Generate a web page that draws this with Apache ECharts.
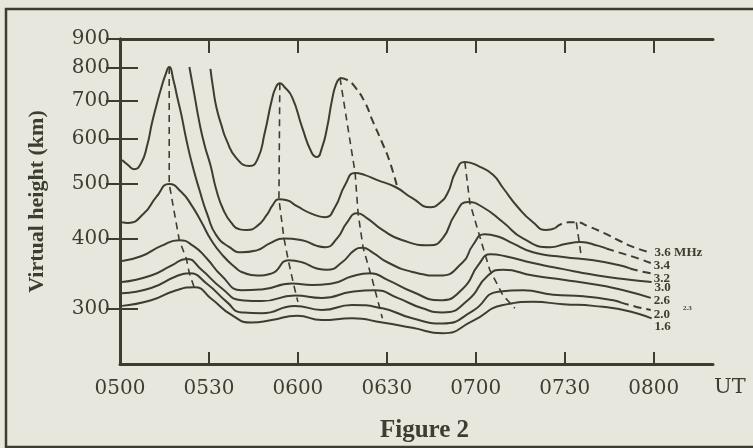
<!DOCTYPE html>
<html>
<head>
<meta charset="utf-8">
<script src="https://cdn.jsdelivr.net/npm/echarts@6/dist/echarts.min.js"></script>
<style>
  html, body { margin: 0; padding: 0; background: #e8e7de; }
  #chart { width: 753px; height: 448px; }
</style>
</head>
<body>
<div id="chart"></div>
<script>
// time in minutes after 0500 UT, virtual height in km
const timeTicks = [0, 30, 60, 90, 120, 150, 180]
const heightTicks = [300, 400, 500, 600, 700, 800, 900]

// upper trace (starts at 0530, ends dashed into the 3.6 MHz curve)
const upperSolid = [[30.5, 797], [31.5, 731], [32.5, 682], [34.2, 634], [35.9, 597], [39.3, 554], [43.7, 537], [46.4, 552], [48.8, 614], [51.2, 702], [52.6, 740], [53.9, 752], [55.3, 742], [58, 711], [61.4, 629], [64.7, 566], [66.4, 557], [68.1, 578], [69.8, 626], [71.5, 702], [72.9, 750], [74.2, 768]]
const upperTail = [[74.2, 768], [76.6, 762], [79.3, 740], [82.7, 694], [85.1, 647], [88.5, 589], [90.8, 550], [93.6, 491]]

const f36Solid = [[23.4, 803], [25.1, 717], [26.8, 640], [28.5, 585], [30.5, 539], [32.5, 487], [34.9, 449], [37.6, 426], [40.3, 415], [42.7, 414], [46.1, 420], [49.5, 440], [51.5, 458], [53.6, 469], [56.3, 467], [59.7, 456], [64.7, 442], [69.2, 436], [72.5, 454], [75.9, 497], [79.3, 522], [82.4, 518], [86.8, 507], [92.9, 493], [98.6, 471], [104.7, 454], [107.8, 462], [110.5, 481], [113.2, 524], [116.3, 546], [121.4, 535], [125.8, 518], [129.2, 491], [134.2, 454], [139.3, 427], [143.7, 414], [146.8, 417]]
const f36Tail = [[146.8, 417], [151.2, 427], [153.9, 427], [158, 420], [163.1, 409], [168.1, 397], [173.2, 386], [179.3, 377]]

const f34Solid = [[0.7, 550], [2.7, 539], [4.7, 530], [7.1, 543], [9.2, 585], [10.8, 640], [12.5, 694], [13.9, 737], [15.3, 777], [16.6, 803], [18, 762], [19.3, 711], [20.7, 661], [22.4, 597], [24.4, 539], [26.8, 487], [29.5, 440], [32.5, 405], [36.9, 386], [41, 378], [46.1, 381], [50.5, 392], [55.3, 400], [61.4, 397], [66.4, 388], [69.2, 386], [73.2, 400], [76.6, 427], [80, 443], [83.4, 434], [88.5, 414], [95.3, 397], [104.4, 389], [108.8, 400], [112.9, 440], [117.3, 464], [122.4, 454], [129.2, 427], [135.9, 400], [145.1, 386], [150.2, 391], [155.3, 394], [161.4, 388], [164, 384]]
const f34Tail = [[164, 384], [168.1, 378], [173.2, 371], [179, 362]]

const f32Solid = [[0.7, 427], [2.7, 426], [8.1, 443], [12.2, 473], [16.6, 499], [20.7, 483], [24.1, 458], [27.5, 427], [30.8, 397], [34.9, 372], [39.3, 354], [41, 349], [46.1, 344], [51.2, 347], [56.9, 366], [61.4, 363], [66.4, 354], [69.8, 352], [74.9, 363], [79, 381], [81.7, 385], [85.1, 378], [90.2, 363], [98.6, 349], [107.8, 344], [115.6, 363], [119, 389], [123, 407], [127.5, 403], [132.5, 392], [139.3, 378], [149.5, 371], [159.7, 366], [168.1, 359], [172, 354]]
const f32Tail = [[172, 354], [175.5, 350], [179, 347]]

const f30 = [[0.7, 365], [7.1, 372], [13.9, 388], [20, 397], [24.7, 388], [29.2, 369], [34.2, 344], [41, 324], [47.8, 325], [58, 333], [64.7, 331], [71.5, 333], [78.3, 343], [84.4, 347], [90.2, 338], [98.6, 322], [107.8, 311], [115.6, 326], [121, 360], [125, 375], [130, 372], [139.3, 362], [149.5, 353], [159.7, 345], [169.8, 339], [179.3, 335]]

const f26 = [[0.7, 335], [10.5, 344], [17.3, 358], [22.4, 368], [27.5, 352], [34.2, 327], [41, 311], [47.8, 310], [59, 317], [68.1, 314], [78.3, 322], [85.8, 324], [93.6, 314], [102, 301], [108.8, 296], [117.3, 311], [124.1, 344], [129.2, 352], [139.3, 344], [149.5, 338], [159.7, 332], [169.8, 324], [179, 314]]

const f20Solid = [[0.7, 320], [10.5, 327], [19, 343], [23.4, 347], [29.2, 333], [36, 309], [41, 296], [47.8, 295], [59, 304], [68.1, 299], [78.3, 305], [88.5, 301], [98.6, 289], [108.8, 283], [119, 298], [127.5, 322], [136, 324], [146.1, 318], [156.3, 316], [166.4, 311], [169, 308]]
const f20Tail = [[169, 308], [174, 303], [179, 299]]

const f16 = [[0.7, 304], [10.5, 311], [19, 324], [25.1, 328], [30.8, 313], [37.6, 293], [44.4, 284], [51.2, 287], [59.7, 292], [68.1, 287], [78.3, 289], [88.5, 284], [98.6, 278], [108.8, 272], [119, 286], [129.2, 305], [139.3, 309], [149.5, 306], [159.7, 304], [169.8, 299], [179.3, 289]]

// dashed lines joining the crests
const crest1 = [[16.6, 803], [16.6, 499], [20, 397], [22.4, 368], [23.4, 347], [25.1, 327]]
const crest2 = [[53.9, 752], [53.6, 469], [55.3, 400], [56.9, 363], [58.6, 331], [60, 309]]
const crest3 = [[74.2, 768], [79.3, 522], [80.3, 443], [82, 385], [85.1, 338], [88.5, 289]]
const crest4 = [[116.3, 546], [118, 462], [121.7, 397], [124.7, 352], [129.2, 317], [133.2, 301]]
const crest5 = [[153.9, 427], [155.6, 371]]

const ink = '#3c3e32'
const serif = 'DejaVu Serif'

function lg(pts) {
  return pts.map(p => [p[0], Math.log10(p[1])])
}

function curve(pts, dashed, label, dy) {
  const s = {
    type: 'line',
    data: lg(pts),
    smooth: 0.55,
    showSymbol: false,
    silent: true,
    lineStyle: { color: ink, width: 2, type: dashed ? [8, 5] : 'solid' }
  }
  if (label) {
    s.endLabel = {
      show: true,
      formatter: label,
      color: ink,
      fontFamily: 'Liberation Serif',
      fontWeight: 'bold',
      fontSize: 13,
      distance: 3,
      offset: [0, dy]
    }
  }
  return s
}

function crest(pts) {
  return {
    type: 'line',
    data: lg(pts),
    showSymbol: false,
    silent: true,
    lineStyle: { color: ink, width: 1.6, type: [7, 5] }
  }
}

function fmtTime(v) {
  const m = 300 + v
  const h = Math.floor(m / 60)
  const mm = m % 60
  return (h < 10 ? '0' : '') + h + (mm < 10 ? '0' : '') + mm
}

const chart = echarts.init(document.getElementById('chart'))
const yMin = Math.log10(240)
const yMax = Math.log10(900)
const yTickVals = heightTicks.map(v => Math.log10(v))

chart.setOption({
  backgroundColor: '#e8e7de',
  animation: false,
  grid: { left: 120, right: 40, top: 39, bottom: 84 },
  xAxis: [
    {
      type: 'value',
      min: 0,
      max: 200,
      position: 'bottom',
      axisLine: { lineStyle: { color: ink, width: 3 } },
      axisTick: { inside: true, length: 12, customValues: timeTicks, lineStyle: { color: ink, width: 2 } },
      axisLabel: {
        customValues: timeTicks,
        formatter: fmtTime,
        color: ink,
        fontFamily: serif,
        fontSize: 20,
        margin: 15
      },
      splitLine: { show: false }
    },
    {
      type: 'value',
      min: 0,
      max: 200,
      position: 'top',
      axisLine: { lineStyle: { color: ink, width: 3 } },
      axisTick: { inside: true, length: 14, customValues: timeTicks, lineStyle: { color: ink, width: 2 } },
      axisLabel: { show: false },
      splitLine: { show: false }
    }
  ],
  yAxis: [
    {
      type: 'value',
      min: yMin,
      max: yMax,
      position: 'left',
      name: 'Virtual height (km)',
      nameLocation: 'middle',
      nameRotate: 90,
      nameGap: 72,
      nameTextStyle: { color: ink, fontFamily: 'Liberation Serif', fontWeight: 'bold', fontSize: 22 },
      axisLine: { show: true, lineStyle: { color: ink, width: 3 } },
      axisTick: { inside: true, length: 18, customValues: yTickVals, lineStyle: { color: ink, width: 2 } },
      axisLabel: {
        customValues: yTickVals,
        formatter: v => String(Math.round(Math.pow(10, v))),
        color: ink,
        fontFamily: serif,
        fontSize: 20,
        margin: 10
      },
      splitLine: { show: false }
    },
    {
      type: 'value',
      min: yMin,
      max: yMax,
      position: 'right',
      axisLine: { show: true, lineStyle: { color: ink, width: 3 } },
      axisTick: { inside: true, length: 14, customValues: yTickVals, lineStyle: { color: ink, width: 2 } },
      axisLabel: { show: false },
      splitLine: { show: false }
    }
  ],
  series: [
    curve(upperSolid, false),
    curve(upperTail, true),
    curve(f36Solid, false),
    curve(f36Tail, true, '3.6 MHz', 0),
    curve(f34Solid, false),
    curve(f34Tail, true, '3.4', 3),
    curve(f32Solid, false),
    curve(f32Tail, true, '3.2', 5),
    curve(f30, false, '3.0', 6),
    curve(f26, false, '2.6', 3),
    curve(f20Solid, false),
    curve(f20Tail, true, '2.0', 5),
    curve(f16, false, '1.6', 8),
    crest(crest1),
    crest(crest2),
    crest(crest3),
    crest(crest4),
    crest(crest5)
  ],
  graphic: [
    {
      type: 'rect',
      shape: { x: 6, y: 9, width: 800, height: 438 },
      style: { fill: 'none', stroke: ink, lineWidth: 2.5 },
      silent: true
    },
    {
      type: 'text',
      left: 714,
      top: 377,
      style: { text: 'UT', fill: ink, font: '21px "DejaVu Serif"' }
    },
    {
      type: 'text',
      left: 683,
      top: 305,
      style: { text: '2.3', fill: ink, font: 'bold 7px "Liberation Serif"' }
    },
    {
      type: 'text',
      left: 380,
      top: 418,
      style: { text: 'Figure 2', fill: ink, font: 'bold 25px "Liberation Serif"' }
    }
  ]
})
</script>
</body>
</html>
